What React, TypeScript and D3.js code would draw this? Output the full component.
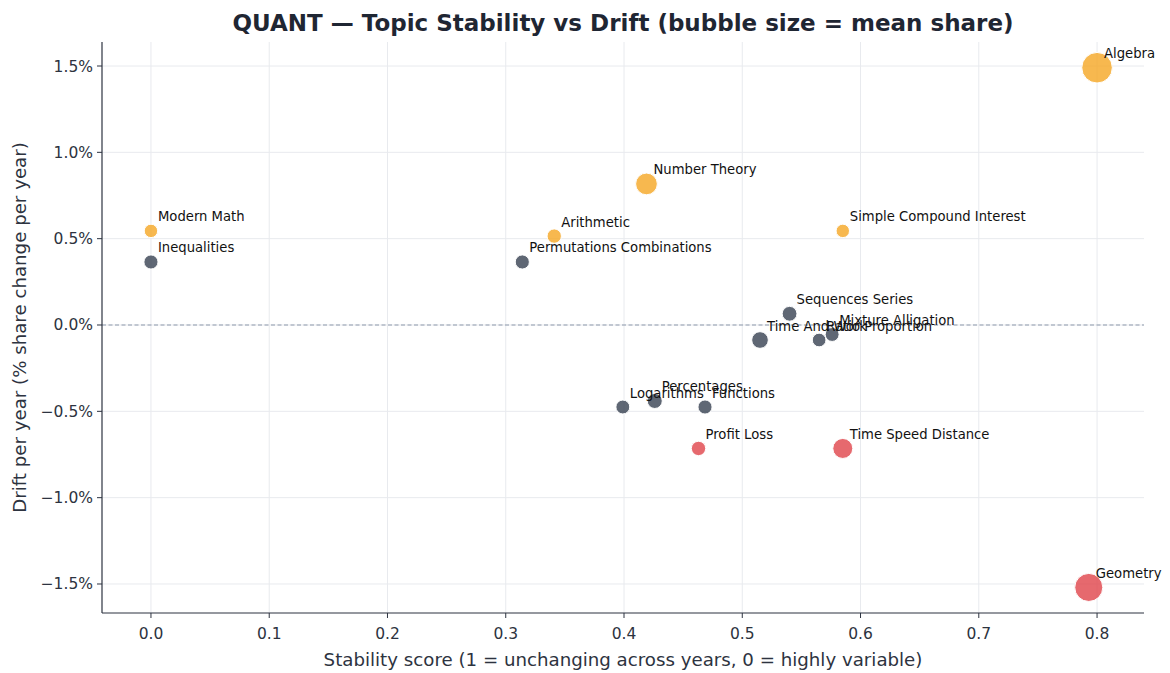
import React from "react";
import * as d3 from "d3";

const topics = [
  "Algebra", "Geometry", "Number Theory", "Modern Math", "Inequalities", "Arithmetic",
  "Permutations Combinations", "Simple Compound Interest", "Sequences Series", "Time And Work",
  "Ratio Proportion", "Mixture Alligation", "Logarithms", "Percentages", "Functions",
  "Profit Loss", "Time Speed Distance",
];
const stability = [0.8, 0.793, 0.419, 0.0, 0.0, 0.341, 0.314, 0.585, 0.54, 0.515, 0.565, 0.576, 0.399, 0.426, 0.4685, 0.463, 0.585];
const drift = [1.49, -1.52, 0.817, 0.545, 0.365, 0.515, 0.365, 0.545, 0.065, -0.087, -0.087, -0.055, -0.475, -0.44, -0.475, -0.715, -0.715];
const meanShare = [14.5, 12.2, 7.3, 2.8, 3.1, 3.2, 3.1, 2.8, 3.4, 4.3, 2.9, 3.0, 3.0, 3.5, 3.1, 3.2, 6.2];
const trend = ["up", "down", "up", "up", "flat", "up", "flat", "up", "flat", "flat", "flat", "flat", "flat", "flat", "flat", "down", "down"];
const xTicks = [0, 0.1, 0.2, 0.3, 0.4, 0.5, 0.6, 0.7, 0.8];
const yTicks = [-1.5, -1.0, -0.5, 0.0, 0.5, 1.0, 1.5];

const colors: Record<string, string> = { up: "#f5a623", down: "#e0434a", flat: "#374151" };

const W = 1170, H = 673;
const M = { left: 102, right: 1144, top: 42, bottom: 613 };
const FONT = "DejaVu Sans, sans-serif";

export default function App() {
  const x = d3.scaleLinear().domain([-0.0414, 0.8397]).range([M.left, M.right]);
  const y = d3.scaleLinear().domain([-1.668, 1.639]).range([M.bottom, M.top]);
  const r = d3.scaleSqrt().domain([0, d3.max(meanShare) as number]).range([0, 15.3]);
  const data = topics.map((t, i) => ({ t, s: stability[i], d: drift[i], m: meanShare[i], c: colors[trend[i]] }));
  const sorted = [...data].sort((a, b) => b.m - a.m);
  const axisColor = "#2d3340";
  const textColor = "#2d3340";
  return (
    <svg width={W} height={H} style={{ position: "absolute", left: 0, top: 0, background: "#fff" }} fontFamily={FONT}>
      <rect width={W} height={H} fill="#fff" />
      {xTicks.map((v) => (
        <line key={"gx" + v} x1={x(v)} x2={x(v)} y1={M.top} y2={M.bottom} stroke="#e8eaee" strokeWidth={1} />
      ))}
      {yTicks.map((v) => (
        <line key={"gy" + v} x1={M.left} x2={M.right} y1={y(v)} y2={y(v)} stroke="#e8eaee" strokeWidth={1} />
      ))}
      <line x1={M.left} x2={M.right} y1={y(0)} y2={y(0)} stroke="#8e99ab" strokeWidth={1.1} strokeDasharray="4,2.5" />
      {sorted.map((p) => (
        <circle key={p.t} cx={x(p.s)} cy={y(p.d)} r={r(p.m)} fill={p.c} fillOpacity={0.8} stroke="#fff" strokeWidth={1} />
      ))}
      {data.map((p) => (
        <text key={"l" + p.t} x={x(p.s) + 7} y={y(p.d) - 9.5} fontSize={13.2} fill="#111">
          {p.t}
        </text>
      ))}
      <line x1={M.left} x2={M.left} y1={M.top} y2={M.bottom} stroke={axisColor} strokeWidth={1.2} />
      <line x1={M.left} x2={M.right} y1={M.bottom} y2={M.bottom} stroke={axisColor} strokeWidth={1.2} />
      {xTicks.map((v) => (
        <g key={"tx" + v}>
          <line x1={x(v)} x2={x(v)} y1={M.bottom} y2={M.bottom + 5} stroke={axisColor} strokeWidth={1} />
          <text x={x(v)} y={M.bottom + 26} textAnchor="middle" fontSize={15.5} fill={textColor}>
            {d3.format(".1f")(v)}
          </text>
        </g>
      ))}
      {yTicks.map((v) => (
        <g key={"ty" + v}>
          <line x1={M.left - 5} x2={M.left} y1={y(v)} y2={y(v)} stroke={axisColor} strokeWidth={1} />
          <text x={M.left - 9} y={y(v) + 5.5} textAnchor="end" fontSize={15.5} fill={textColor}>
            {d3.format(".1f")(v).replace("-", "\u2212") + "%"}
          </text>
        </g>
      ))}
      <text x={(M.left + M.right) / 2} y={666} textAnchor="middle" fontSize={18.2} fill={textColor}>
        Stability score (1 = unchanging across years, 0 = highly variable)
      </text>
      <text transform={`translate(26,${(M.top + M.bottom) / 2}) rotate(-90)`} textAnchor="middle" fontSize={18.2} fill={textColor}>
        Drift per year (% share change per year)
      </text>
      <text x={(M.left + M.right) / 2} y={31} textAnchor="middle" fontSize={23} fontWeight="bold" fill="#1f2633">
        QUANT — Topic Stability vs Drift (bubble size = mean share)
      </text>
    </svg>
  );
}
